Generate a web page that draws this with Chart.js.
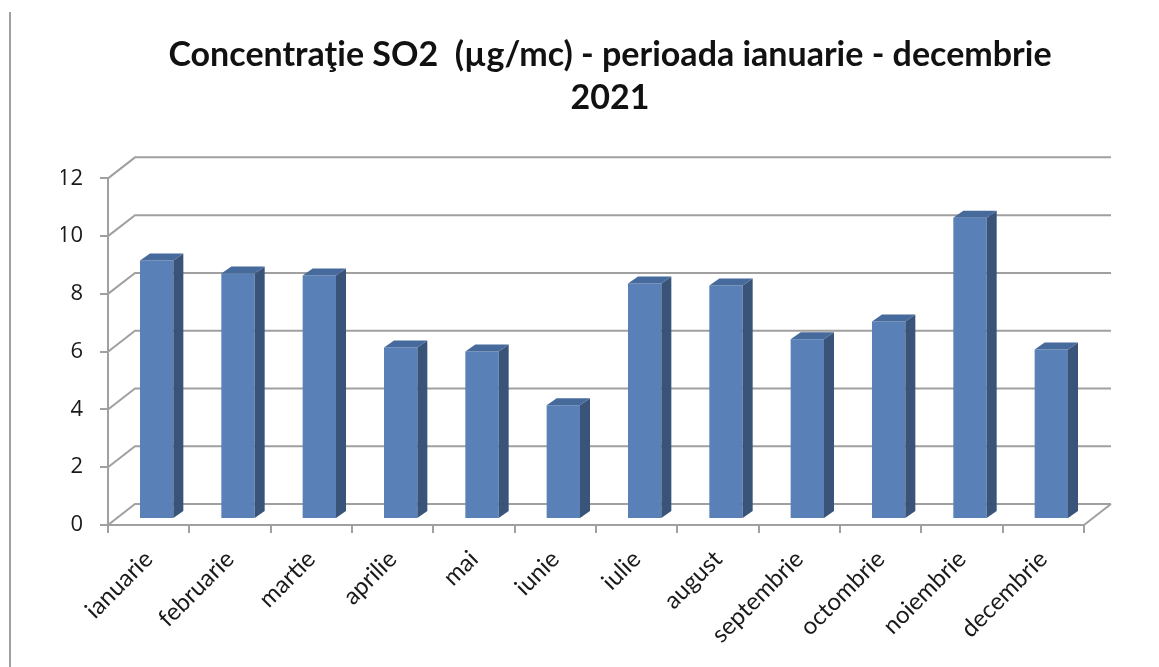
<!DOCTYPE html>
<html>
<head>
<meta charset="utf-8">
<title>Concentraţie SO2 2021</title>
<script src="https://cdn.jsdelivr.net/npm/chart.js@4"></script>
<style>
    body { margin: 0; background: #fff; }
    #wrap { position: relative; width: 1159px; height: 667px; }
    #pageEdge { position: absolute; left: 9px; top: 12px; width: 2px; height: 655px; background: #a0a0a0; }
</style>
</head>
<body>
<div id="wrap">
    <div id="pageEdge"></div>
    <canvas id="so2Chart"></canvas>
</div>
<script>
// Chart data
const months = ['ianuarie', 'februarie', 'martie', 'aprilie', 'mai', 'iunie',
    'iulie', 'august', 'septembrie', 'octombrie', 'noiembrie', 'decembrie'];
const so2Values = [8.95, 8.5, 8.43, 5.94, 5.8, 3.94, 8.15, 8.08, 6.22, 6.84, 10.43, 5.87];
const yMin = 0;
const yMax = 12;
const yStep = 2;
const titleLines = ['Concentraţie SO2  (µg/mc) - perioada ianuarie - decembrie', '2021'];

// 3D look: back wall offset, bar depth position and bar thickness
const WALL_DX = 27, WALL_DY = 21;
const BAR_DX = 8, BAR_DY = 6;
const SIDE_DX = 10, SIDE_DY = 7;
const GRID_COLOR = '#a0a0a0';

const wall3d = {
    id: 'wall3d',
    beforeDatasetsDraw(chart) {
        const ctx = chart.ctx;
        const a = chart.chartArea;
        const y = chart.scales.y;
        ctx.save();
        ctx.strokeStyle = GRID_COLOR;
        ctx.lineWidth = 2;
        y.ticks.forEach(function(t) {
            const py = y.getPixelForValue(t.value);
            ctx.beginPath();
            ctx.moveTo(a.left, py);
            ctx.lineTo(a.left + WALL_DX, py - WALL_DY);
            ctx.lineTo(a.right + WALL_DX, py - WALL_DY);
            ctx.stroke();
        });
        // right edge of the floor
        ctx.beginPath();
        ctx.moveTo(a.right, a.bottom);
        ctx.lineTo(a.right + WALL_DX, a.bottom - WALL_DY);
        ctx.stroke();
        ctx.restore();

        // bars sit a little behind the front axis
        ctx.save();
        ctx.translate(BAR_DX, -BAR_DY);
    },
    afterDatasetsDraw(chart) {
        const ctx = chart.ctx;
        chart.getDatasetMeta(0).data.forEach(function(bar) {
            const p = bar.getProps(['x', 'y', 'base', 'width'], true);
            const left = p.x - p.width / 2;
            const right = p.x + p.width / 2;
            // side face
            ctx.fillStyle = '#3a5479';
            ctx.beginPath();
            ctx.moveTo(right, p.y);
            ctx.lineTo(right + SIDE_DX, p.y - SIDE_DY);
            ctx.lineTo(right + SIDE_DX, p.base - SIDE_DY);
            ctx.lineTo(right, p.base);
            ctx.closePath();
            ctx.fill();
            // top face
            ctx.fillStyle = '#476a9c';
            ctx.beginPath();
            ctx.moveTo(left, p.y);
            ctx.lineTo(left + SIDE_DX, p.y - SIDE_DY);
            ctx.lineTo(right + SIDE_DX, p.y - SIDE_DY);
            ctx.lineTo(right, p.y);
            ctx.closePath();
            ctx.fill();
        });
        ctx.restore();
    }
};

new Chart(document.getElementById('so2Chart'), {
    type: 'bar',
    data: {
        labels: months,
        datasets: [{
            label: 'SO2',
            data: so2Values,
            backgroundColor: '#5a80b8',
            borderWidth: 0,
            categoryPercentage: 1,
            barPercentage: 0.41
        }]
    },
    options: {
        responsive: true,
        maintainAspectRatio: false,
        animation: false,
        layout: {
            padding: { left: 61, right: 0, top: 0, bottom: 0 }
        },
        plugins: {
            legend: { display: false },
            tooltip: { enabled: false },
            title: {
                display: true,
                text: titleLines,
                color: '#111',
                font: { family: 'Lato', size: 34, weight: 'bold', lineHeight: 1.27 },
                padding: { top: 33, bottom: 59 }
            }
        },
        scales: {
            x: {
                grid: {
                    display: true,
                    drawOnChartArea: false,
                    drawTicks: true,
                    tickLength: 8,
                    color: GRID_COLOR,
                    lineWidth: 2
                },
                border: { display: true, color: GRID_COLOR, width: 2 },
                ticks: {
                    color: '#1a1a1a',
                    font: { family: 'Lato', size: 24 },
                    minRotation: 45,
                    maxRotation: 45,
                    padding: 12,
                    autoSkip: false
                },
                afterFit: function(scale) { scale.height = 142; }
            },
            y: {
                min: yMin,
                max: yMax,
                grid: {
                    display: true,
                    drawOnChartArea: false,
                    drawTicks: true,
                    tickLength: 8,
                    color: GRID_COLOR,
                    lineWidth: 2
                },
                border: { display: true, color: GRID_COLOR, width: 2 },
                ticks: {
                    stepSize: yStep,
                    color: '#1a1a1a',
                    font: { family: 'Open Sans', size: 22 },
                    padding: 17
                },
                afterFit: function(scale) { scale.width = 47; }
            },
            // empty right axis, only reserves the space at the right of the plot
            yRight: {
                position: 'right',
                grid: { display: false },
                border: { display: false },
                ticks: { display: false },
                afterFit: function(scale) { scale.width = 75; }
            }
        }
    },
    plugins: [wall3d]
});
</script>
</body>
</html>
